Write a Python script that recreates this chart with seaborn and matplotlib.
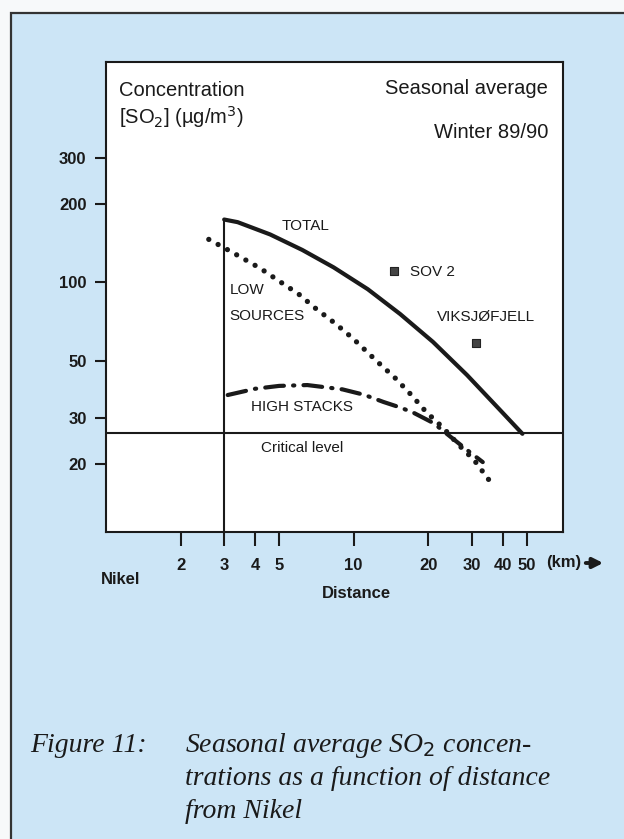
import matplotlib
matplotlib.use("Agg")
import matplotlib.pyplot as plt
from matplotlib.patches import Rectangle
from matplotlib.ticker import NullLocator
import seaborn as sns

# distance from Nikel (km) and SO2 concentration (ug/m3)
total_km = [3.0, 3.4, 4.6, 6.2, 8.3, 11.4, 15.4, 20.9, 28.7, 38.9, 48.0]
total_conc = [174, 170, 152.5, 133, 114, 94, 75.5, 59, 44, 32.4, 26.2]

low_km = [2.6, 3.2, 4.2, 5.0, 6.0, 7.0, 8.4, 9.9, 12.5, 14.7, 17.1, 19.6, 23.0, 26.6, 30.6, 35.2]
low_conc = [146, 131, 113, 101, 90, 79.5, 69.6, 61, 49.4, 42.9, 36.9, 31.8, 27.6, 23.7, 20.8, 17.4]

high_km = [3.1, 4.0, 5.0, 6.5, 9.0, 11.0, 13.2, 15.5, 17.5, 21.0, 24.0, 28.7, 33.2]
high_conc = [36.9, 39, 40, 40.3, 38.8, 37, 34.7, 33, 31.5, 28.8, 26, 22.7, 20.4]

site_names = ["SOV 2", "VIKSJØFJELL"]
site_km = [14.6, 31.2]
site_conc = [110, 58.4]

critical_level = 26.3

x_ticks = [2, 3, 4, 5, 10, 20, 30, 40, 50]
x_labels = ["2", "3", "4", "5", "10", "20", "30", "40", "50"]
y_ticks = [20, 30, 50, 100, 200, 300]
y_labels = ["20", "30", "50", "100", "200", "300"]

W, H = 624, 839
BLUE = "#cce5f6"
INK = "#1a1a1a"


def px(x, y):
    # pixel position in the picture -> figure fraction
    return x / W, 1 - y / H


sns.set_style("ticks")
plt.rcParams["font.family"] = ["Liberation Sans", "DejaVu Sans"]

fig = plt.figure(figsize=(W / 100, H / 100), dpi=100)
fig.patch.set_facecolor("#f7f9fa")

# blue page with the dark frame
x0, y0 = px(11, 13)
fig.patches.append(Rectangle((x0, -0.05), 1.2, y0 + 0.05, transform=fig.transFigure,
                             facecolor=BLUE, edgecolor="#333333", lw=1.6, zorder=-10))

l, t = px(106, 62)
r, b = px(563, 532)
ax = fig.add_axes([l, b, r - l, t - b])
ax.set_zorder(2)
ax.set_facecolor("white")

sns.lineplot(x=total_km, y=total_conc, ax=ax, color=INK, lw=3.0,
             sort=False, estimator=None, solid_capstyle="round", solid_joinstyle="round")
sns.lineplot(x=low_km, y=low_conc, ax=ax, color=INK, lw=3.8,
             sort=False, estimator=None, linestyle=(0, (0.01, 2.0)), dash_capstyle="round")
sns.lineplot(x=high_km, y=high_conc, ax=ax, color=INK, lw=3.0,
             sort=False, estimator=None, linestyle=(0, (4.5, 2.2, 0.3, 2.2)), dash_capstyle="round")
sns.scatterplot(x=site_km, y=site_conc, ax=ax, marker="s", s=40, color="#444444",
                edgecolor="#222222", linewidth=0.8, zorder=5)

ax.axhline(critical_level, color=INK, lw=1.5)
ax.vlines(3, 11, total_conc[0], color=INK, lw=1.5)

ax.set_xscale("log")
ax.set_yscale("log")
ax.set_xlim(1, 70)
ax.set_ylim(11, 700)
ax.set_xticks(x_ticks)
ax.set_xticklabels(x_labels)
ax.set_yticks(y_ticks)
ax.set_yticklabels(y_labels)
ax.xaxis.set_minor_locator(NullLocator())
ax.yaxis.set_minor_locator(NullLocator())
ax.tick_params(axis="x", direction="out", length=10, width=1.5, pad=9,
               labelsize=12, colors=INK)
ax.tick_params(axis="y", direction="out", length=8, width=1.5, pad=6,
               labelsize=12, colors=INK)
for lab in ax.get_xticklabels() + ax.get_yticklabels():
    lab.set_fontweight("bold")
for sp in ax.spines.values():
    sp.set_visible(True)
    sp.set_linewidth(1.5)
    sp.set_color(INK)
ax.set_xlabel("")
ax.set_ylabel("")

# curve labels
ax.text(5.14, 164, "TOTAL", fontsize=11, va="center", color=INK)
ax.text(3.15, 93, "LOW", fontsize=11, va="center", color=INK)
ax.text(3.15, 74, "SOURCES", fontsize=11, va="center", color=INK)
ax.text(3.86, 33.2, "HIGH STACKS", fontsize=11, va="center", color=INK)
ax.text(4.23, 23.1, "Critical level", fontsize=11, va="center", color=INK)
ax.text(16.9, 109, site_names[0], fontsize=11, va="center", color=INK)
ax.text(21.7, 73.4, site_names[1], fontsize=11, va="center", color=INK)

# corner texts
fig.text(*px(119, 90), "Concentration", fontsize=14.5, va="center", color=INK)
fig.text(*px(119, 117), "[SO$_2$] (µg/m$^3$)", fontsize=14.5, va="center", color=INK)
fig.text(*px(548, 89), "Seasonal average", fontsize=14.5, ha="right", va="center", color=INK)
fig.text(*px(548, 132), "Winter 89/90", fontsize=14.5, ha="right", va="center", color=INK)

# axis captions
fig.text(*px(101, 580), "Nikel", fontsize=12, fontweight="bold", va="center", color=INK)
fig.text(*px(356, 593), "Distance", fontsize=12, fontweight="bold", ha="center", va="center", color=INK)
fig.text(*px(546, 563), "(km)", fontsize=12, fontweight="bold", va="center", color=INK)
ax.annotate("", xy=px(606, 563), xytext=px(583, 563), xycoords="figure fraction",
            textcoords="figure fraction",
            arrowprops=dict(arrowstyle="-|>", lw=2.8, color=INK, mutation_scale=15))

# figure caption
cap = dict(family=["Liberation Serif", "DejaVu Serif"], style="italic", fontsize=20,
           va="baseline", color=INK)
fig.text(*px(30, 752), "Figure 11:", **cap)
fig.text(*px(185, 752), "Seasonal average SO$_2$ concen-", **cap)
fig.text(*px(185, 785), "trations as a function of distance", **cap)
fig.text(*px(185, 818), "from Nikel", **cap)

fig.savefig("out.png", dpi=100)
